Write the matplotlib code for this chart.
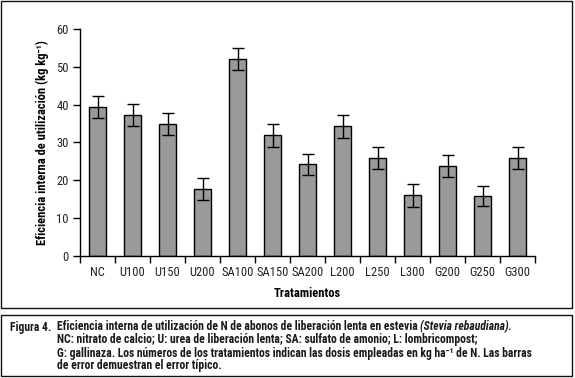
import numpy as np
import matplotlib
matplotlib.use('Agg')
import matplotlib.pyplot as plt
from matplotlib.patches import Rectangle

plt.rcParams['font.family'] = ['Roboto Condensed', 'DejaVu Sans']

# data
tratamientos = ['NC', 'U100', 'U150', 'U200', 'SA100', 'SA150', 'SA200',
                'L200', 'L250', 'L300', 'G200', 'G250', 'G300']
eficiencia = [39.3, 37.2, 34.8, 17.6, 52.0, 31.9, 24.2,
              34.3, 25.8, 16.0, 23.7, 15.8, 25.8]
error_tipico = [2.9, 2.9, 2.9, 2.9, 2.9, 3.0, 2.7,
                3.1, 2.9, 3.1, 2.9, 2.7, 2.9]
yticks = [0, 10, 20, 30, 40, 50, 60]

fig = plt.figure(figsize=(5.75, 3.78), dpi=100)
ax = fig.add_axes([80/575, 1-256/378, 455/575, 227/378])

x = np.arange(len(tratamientos))
ax.bar(x, eficiencia, width=0.46, color='#9a9a9a', edgecolor='black', linewidth=1.0,
       yerr=error_tipico, error_kw=dict(ecolor='black', elinewidth=1.0, capsize=4, capthick=1.0))

ax.set_xlim(-0.5, len(tratamientos) - 0.5)
ax.set_ylim(0, 60)
ax.set_xticks(x)
ax.set_xticklabels(tratamientos, fontsize=9, color='#222222')
ax.set_yticks(yticks)
ax.set_yticklabels([str(v) for v in yticks], fontsize=9, color='#222222')
ax.tick_params(axis='x', length=0, pad=7)
ax.tick_params(axis='y', length=5, width=1, direction='out', pad=3)
# x ticks sit between the bars
ax.set_xticks(np.arange(len(tratamientos) + 1) - 0.5, minor=True)
ax.tick_params(axis='x', which='minor', length=5, width=1, direction='out')

for s in ['top', 'right']:
    ax.spines[s].set_visible(False)
ax.spines['left'].set_linewidth(1)
ax.spines['bottom'].set_linewidth(1)

ax.set_xlabel('Tratamientos', fontsize=9, fontweight='bold', labelpad=6)
ax.set_ylabel('Eficiencia interna de utilización (kg kg\u207b\u00b9)',
              fontsize=9, fontweight='bold', labelpad=5)

# frames
fig.patches.append(Rectangle((1/575, 1-308/378), 571/575, 307/378, transform=fig.transFigure,
                             fill=False, edgecolor='#111111', linewidth=1))
fig.patches.append(Rectangle((1/575, 1-376/378), 571/575, 61/378, transform=fig.transFigure,
                             fill=False, edgecolor='#111111', linewidth=1))

cap_kw = dict(fontsize=8.4, fontweight='bold', color='#1a1a1a', va='center', ha='left')
fig.text(10/575, 1-327/378, 'Figura 4.', **cap_kw)
t1 = fig.text(57/575, 1-327/378, 'Eficiencia interna de utilización de N de abonos de liberación lenta en estevia ', **cap_kw)
fig.canvas.draw()
bb = t1.get_window_extent(fig.canvas.get_renderer())
fig.text(bb.x1 / fig.bbox.width, 1-327/378, '(Stevia rebaudiana).', style='italic', **cap_kw)
fig.text(57/575, 1-340/378, 'NC: nitrato de calcio; U: urea de liberación lenta; SA: sulfato de amonio; L: lombricompost;', **cap_kw)
fig.text(57/575, 1-353/378, 'G: gallinaza. Los números de los tratamientos indican las dosis empleadas en kg ha\u207b\u00b9 de N. Las barras', **cap_kw)
fig.text(57/575, 1-366/378, 'de error demuestran el error típico.', **cap_kw)

fig.savefig('out.png', dpi=100)
